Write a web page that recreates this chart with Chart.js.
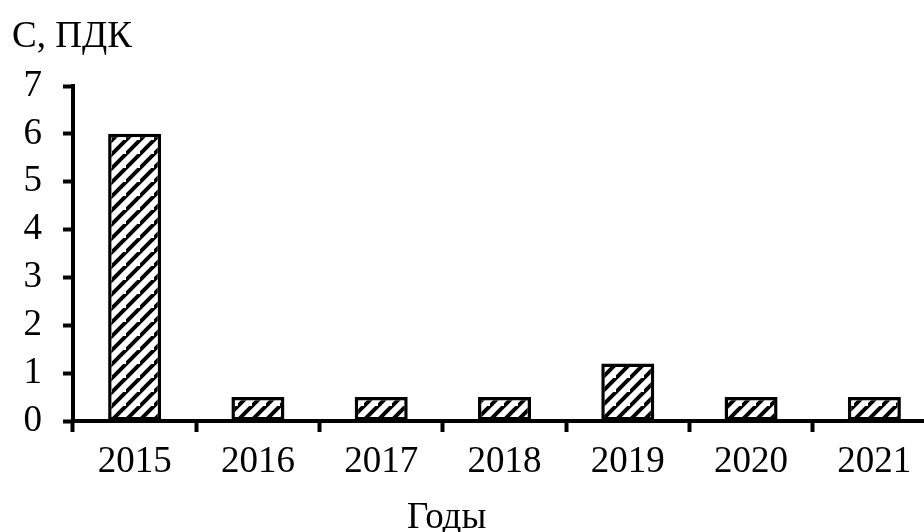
<!DOCTYPE html>
<html lang="ru">
<head>
<meta charset="utf-8">
<title>С, ПДК по годам</title>
<script src="https://cdn.jsdelivr.net/npm/chart.js@4.4.1/dist/chart.umd.min.js"></script>
<style>
  html, body { margin: 0; padding: 0; background: #fff; overflow: hidden; }
  #wrap { position: relative; width: 940px; height: 532px; }
</style>
</head>
<body>
<div id="wrap"><canvas id="chart"></canvas></div>
<script>
// Concentration, in multiples of the maximum permissible level (ПДК)
const years = ['2015', '2016', '2017', '2018', '2019', '2020', '2021'];
const concentration = [6, 0.5, 0.5, 0.5, 1.2, 0.5, 0.5];
const yTicks = [0, 1, 2, 3, 4, 5, 6, 7];
const yTitle = 'С, ПДК';
const xTitle = 'Годы';

const FONT = '"Liberation Serif", "Times New Roman", serif';
const FONT_SIZE = 37;

// Diagonal "/" hatching used as the bar fill
function makeHatch() {
  const p = 14;
  const c = document.createElement('canvas');
  c.width = p; c.height = p;
  const g = c.getContext('2d');
  g.fillStyle = '#fff';
  g.fillRect(0, 0, p, p);
  g.strokeStyle = '#000';
  g.lineWidth = 4;
  g.lineCap = 'square';
  g.beginPath();
  g.moveTo(-2, p + 2); g.lineTo(p + 2, -2);
  g.moveTo(-2 - p, p + 2); g.lineTo(2, -2);
  g.moveTo(p - 2, 2 * p + 2); g.lineTo(2 * p + 2, p - 2);
  g.stroke();
  return g.createPattern(c, 'repeat');
}

// Axis captions drawn as plain text
const captions = {
  id: 'captions',
  afterDraw(chart) {
    const ctx = chart.ctx;
    ctx.save();
    ctx.fillStyle = '#000';
    ctx.font = FONT_SIZE + 'px ' + FONT;
    ctx.textBaseline = 'alphabetic';
    ctx.textAlign = 'left';
    ctx.fillText(yTitle, 12, 47);
    ctx.fillText(xTitle, 407, 528);
    ctx.restore();
  }
};

new Chart(document.getElementById('chart'), {
  type: 'bar',
  data: {
    labels: years,
    datasets: [{
      data: concentration,
      backgroundColor: makeHatch(),
      borderColor: '#000',
      borderWidth: 3.5,
      borderSkipped: false,
      barPercentage: 0.43,
      categoryPercentage: 1
    }]
  },
  options: {
    responsive: true,
    maintainAspectRatio: false,
    animation: false,
    layout: { padding: { top: 86, right: 4, bottom: 0, left: 0 } },
    plugins: {
      legend: { display: false },
      tooltip: { enabled: false },
      title: { display: false }
    },
    scales: {
      x: {
        grid: {
          offset: true,
          drawOnChartArea: false,
          drawTicks: true,
          tickLength: 11,
          tickWidth: 4,
          tickColor: '#000'
        },
        border: { display: true, color: '#000', width: 4 },
        ticks: {
          color: '#000',
          padding: 8,
          maxRotation: 0,
          font: { family: FONT, size: FONT_SIZE }
        },
        afterFit(scale) { scale.height = 111; }
      },
      y: {
        min: 0,
        max: 7,
        afterBuildTicks(scale) { scale.ticks = yTicks.map(v => ({ value: v })); },
        grid: {
          drawOnChartArea: false,
          drawTicks: true,
          tickLength: 10,
          tickWidth: 4,
          tickColor: '#000'
        },
        border: { display: true, color: '#000', width: 4 },
        ticks: {
          color: '#000',
          padding: 21,
          font: { family: FONT, size: FONT_SIZE }
        },
        afterFit(scale) { scale.width = 73; }
      }
    }
  },
  plugins: [captions]
});
</script>
</body>
</html>
